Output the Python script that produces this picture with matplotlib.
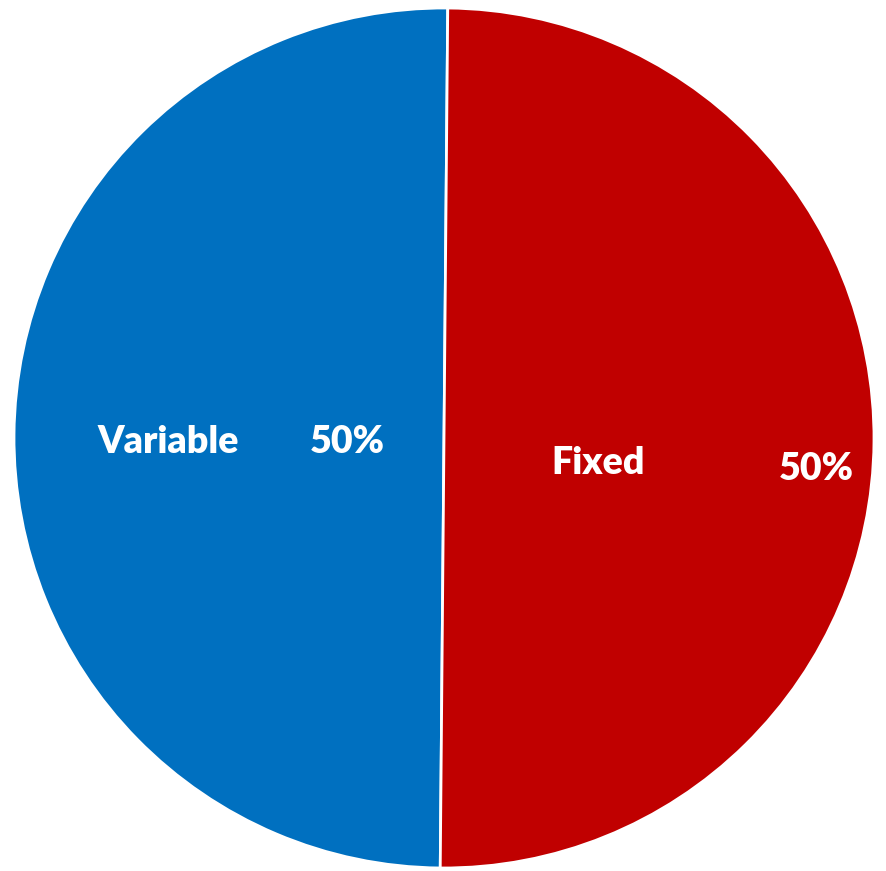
import matplotlib.pyplot as plt

# --------------------------
# DATA
# --------------------------
labels = ["Variable", "Fixed"]
values = [50, 50]
colors = ["#0070C0", "#C00000"]

# label spots inside the pie (data units, pie radius = 1)
label_pos = [(-0.642, -0.009), (0.358, -0.058)]
pct_pos = [(-0.226, -0.009), (0.865, -0.072)]

# --------------------------
# PLOT
# --------------------------
W, H = 886, 871
fig = plt.figure(figsize=(W / 100, H / 100), dpi=100)
cx, cy, R = 444, 438, 430
ax = fig.add_axes([(cx - R) / W, (H - cy - R) / H, 2 * R / W, 2 * R / H])

ax.pie(values, colors=colors, startangle=89.5, counterclock=True,
       wedgeprops=dict(edgecolor="white", linewidth=2))
ax.set_xlim(-1, 1)
ax.set_ylim(-1, 1)
ax.axis("off")

total = sum(values)
for lab, v, lp, pp in zip(labels, values, label_pos, pct_pos):
    ax.text(lp[0], lp[1], lab, color="white", fontsize=27, fontweight="heavy",
            family="Lato", ha="center", va="center")
    ax.text(pp[0], pp[1], f"{v / total:.0%}", color="white", fontsize=27,
            fontweight="heavy", family="Lato", ha="center", va="center")

fig.savefig("out.png", dpi=100)
plt.close()
